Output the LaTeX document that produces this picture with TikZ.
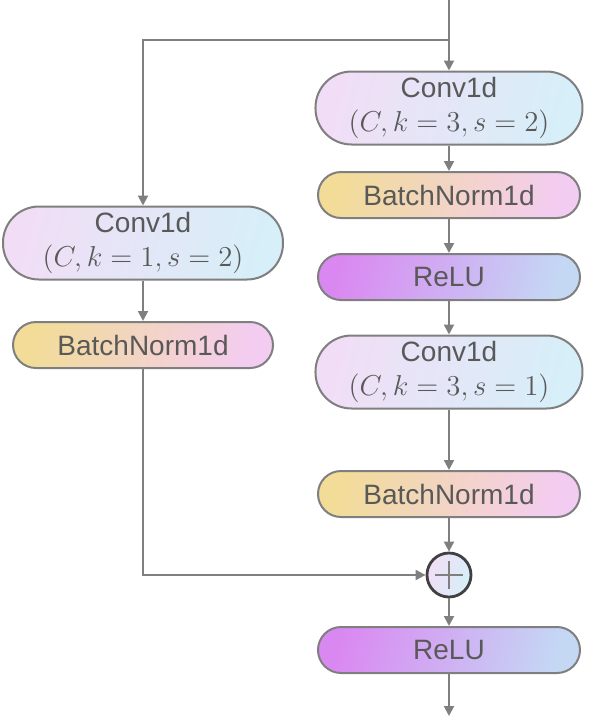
\documentclass[tikz,border=0pt]{standalone}
\usepackage{fontspec}
\setsansfont{Liberation Sans}
\usetikzlibrary{arrows.meta, positioning}

\definecolor{linegray}{HTML}{7F7F7F}
\definecolor{txtgray}{HTML}{595959}
\definecolor{convA}{HTML}{F1DEF6}
\definecolor{convB}{HTML}{D6EFF8}
\definecolor{bnA}{HTML}{F2DC98}
\definecolor{bnB}{HTML}{F3CCF2}
\definecolor{reluA}{HTML}{DA88F1}
\definecolor{reluB}{HTML}{C4D8F4}

\tikzset{
  blk/.style={draw=linegray, line width=1pt, text=txtgray, align=center, inner sep=0pt,
    font=\sffamily\fontsize{14}{17}\selectfont},
  convbox/.style={blk, left color=convA, right color=convB, shading angle=75,
    minimum width=133.5pt, minimum height=36.5pt, rounded corners=18pt},
  bnbox/.style={blk, left color=bnA, right color=bnB, shading angle=75,
    minimum width=131pt, minimum height=23pt, rounded corners=11.5pt},
  relubox/.style={bnbox, left color=reluA, right color=reluB, shading angle=75},
  addnode/.style={circle, draw=black!75, line width=1.4pt, left color=convA, right color=convB,
    shading angle=75, minimum size=22pt, inner sep=0pt},
  arr/.style={draw=linegray, line width=1pt, -{Triangle[length=5pt, width=5pt]}},
  ln/.style={draw=linegray, line width=1pt}
}

\begin{document}
\begin{tikzpicture}[x=0.5pt, y=-0.5pt]
	\useasboundingbox (0,0) rectangle (592,720);
	
	% rama principal
	\node[convbox] (conva) at (449,108) {Conv1d\\$(C,k=3,s=2)$};
	\node[bnbox] (bna) at (449,195) {BatchNorm1d};
	\node[relubox] (relua) at (449,277) {ReLU};
	\node[convbox] (convb) at (449,372) {Conv1d\\$(C,k=3,s=1)$};
	\node[bnbox] (bnb) at (449,494) {BatchNorm1d};
	\node[addnode] (add) at (449,575) {};
	\node[relubox] (relub) at (449,650) {ReLU};
	
	% atajo
	\node[convbox, minimum width=140pt] (convs) at (143,243) {Conv1d\\$(C,k=1,s=2)$};
	\node[bnbox, minimum width=130pt] (bns) at (143,345) {BatchNorm1d};
	
	\coordinate (in) at (449,0);
	\coordinate (split) at (449,40);
	\coordinate (out) at (449,716);
	
	% signo +
	\draw[linegray, line width=0.6pt] ([xshift=-7pt]add.center) -- ([xshift=7pt]add.center);
	\draw[linegray, line width=0.6pt] ([yshift=-7pt]add.center) -- ([yshift=7pt]add.center);
	
	% flechas
	\draw[arr] (in) -- (conva);
	\draw[arr] (split) -| (convs);
	\draw[arr] (conva) -- (bna);
	\draw[arr] (bna) -- (relua);
	\draw[arr] (relua) -- (convb);
	\draw[arr] (convb) -- (bnb);
	\draw[arr] (bnb) -- (add);
	\draw[arr] (add) -- (relub);
	\draw[arr] (relub) -- (out);
	\draw[arr] (convs) -- (bns);
	\draw[arr] (bns) |- (add);
\end{tikzpicture}
\end{document}
